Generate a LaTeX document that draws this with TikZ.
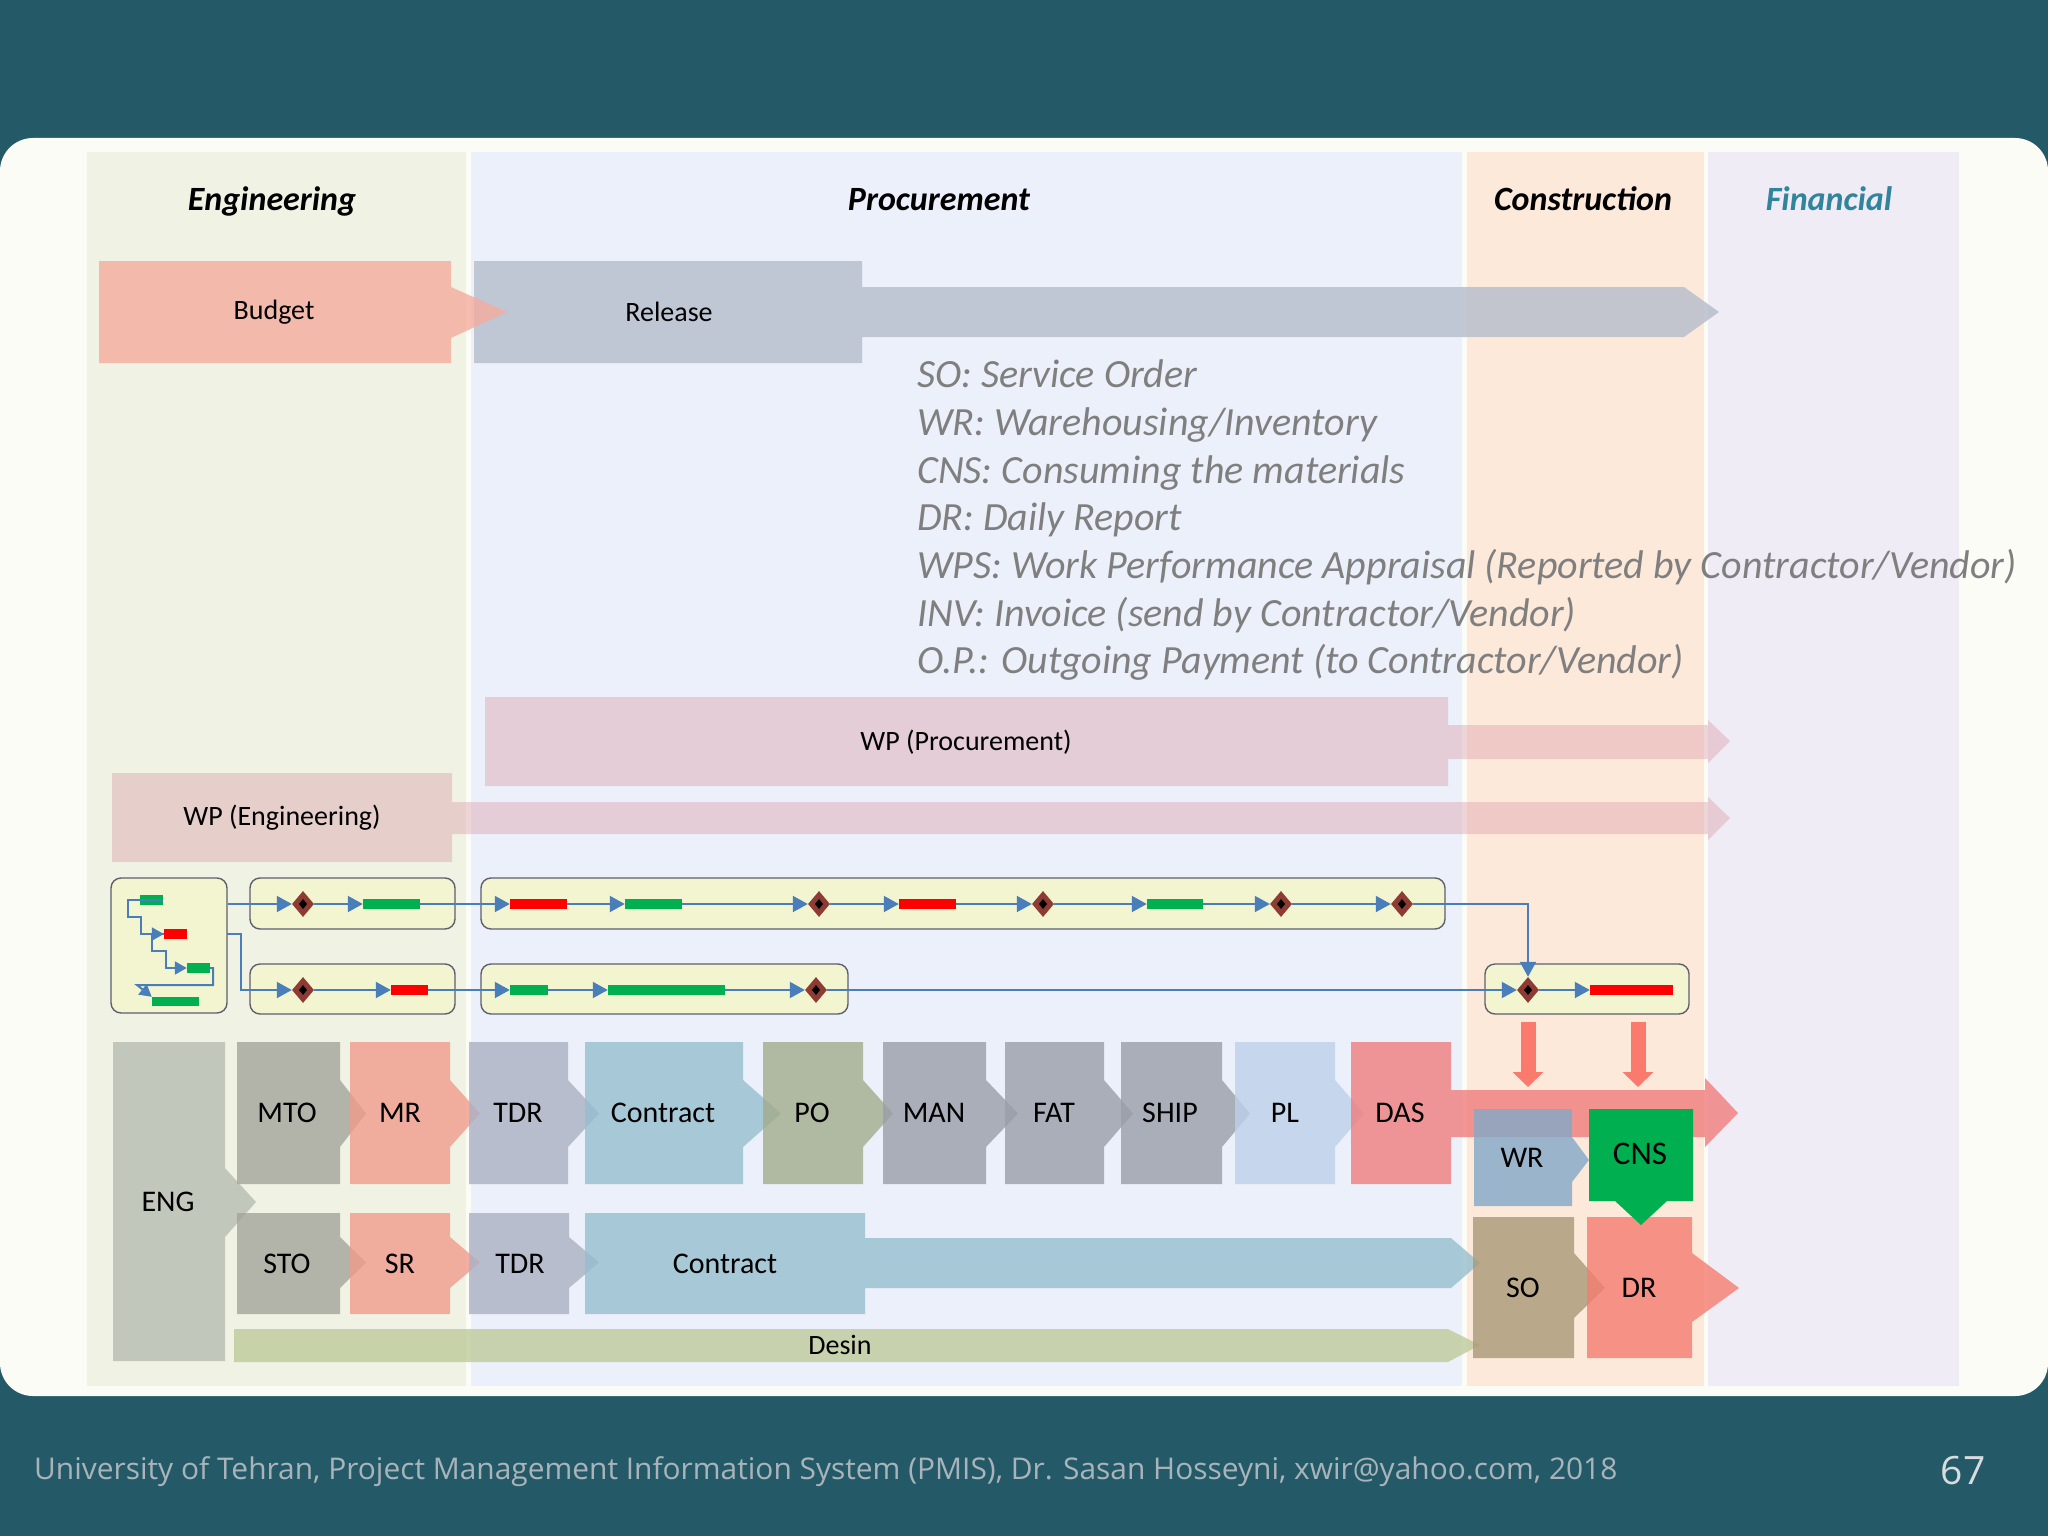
\documentclass[tikz,border=0pt]{standalone}
\usepackage{fontspec}
\setmainfont{Carlito}
\newfontfamily\footfont{Open Sans}
\usetikzlibrary{arrows.meta,shapes.geometric}
\newcommand\myfs[1]{\fontsize{#1}{#1}\selectfont}
\definecolor{bgteal}{HTML}{245A68}
\definecolor{panel}{HTML}{FCFCF7}
\definecolor{colEng}{HTML}{F0F3E4}
\definecolor{colProc}{HTML}{ECF0FA}
\definecolor{colCons}{HTML}{FDE9DA}
\definecolor{colFin}{HTML}{F0ECF6}
\definecolor{finteal}{HTML}{31849B}
\definecolor{leggrey}{HTML}{7F7F7F}
\definecolor{footgrey}{HTML}{A9B4BA}
\definecolor{pagegrey}{HTML}{D8DCDE}
\definecolor{cBudget}{HTML}{F4AC9E}
\definecolor{cRelease}{HTML}{B4BCCB}
\definecolor{cWP}{HTML}{DCA4AE}
\definecolor{cMTO}{HTML}{A3A59B}
\definecolor{cMR}{HTML}{F09B8C}
\definecolor{cTDR}{HTML}{ACB1C4}
\definecolor{cContract}{HTML}{96BECE}
\definecolor{cPO}{HTML}{A2AC8C}
\definecolor{cMAN}{HTML}{999EA8}
\definecolor{cPL}{HTML}{BCD0EA}
\definecolor{cDAS}{HTML}{F07D7D}
\definecolor{cENG}{HTML}{B7BDB2}
\definecolor{cWR}{HTML}{82A8C8}
\definecolor{cSO}{HTML}{A89976}
\definecolor{cDR}{HTML}{F57D70}
\definecolor{cDesin}{HTML}{BECA9B}
\definecolor{cCNS}{HTML}{00B050}
\definecolor{boxfill}{HTML}{F3F5D0}
\definecolor{boxline}{HTML}{5F5F70}
\definecolor{connblue}{HTML}{4A7EBB}
\definecolor{msbrown}{HTML}{8E3B33}
\definecolor{ggreen}{HTML}{00B050}
\definecolor{rred}{HTML}{FF0000}
\definecolor{redarrow}{HTML}{FA7A6E}
\newcommand\chev[8]{%
  \fill[#8] (#1,#2) -- (#3,#2) -- (#3,#6) -- (#5,{(#6+#7)/2}) -- (#3,#7) -- (#3,#4) -- (#1,#4) -- cycle;}
\begin{document}
\begin{tikzpicture}[x=1pt,y=-1pt,
  lbl/.style={font=\myfs{30}, text=black, inner sep=0},
  hdr/.style={font=\myfs{34}\bfseries\itshape, inner sep=0, anchor=base},
  leg/.style={font=\myfs{40}\itshape, text=leggrey, anchor=base west, inner sep=0},
  gbox/.style={draw=boxline, fill=boxfill, line width=1.4pt, rounded corners=10pt, inner sep=0},
  gbar/.style={fill=ggreen, minimum height=10, inner sep=0},
  rbar/.style={fill=rred, minimum height=10, inner sep=0},
  ms/.style={diamond, fill=msbrown, minimum width=22, minimum height=26, inner sep=0,
    path picture={\fill[black] (path picture bounding box.center) +(-4,0) -- +(0,5) -- +(4,0) -- +(0,-5) -- cycle;}},
  conn/.style={draw=connblue, line width=2pt, -{Triangle[length=15pt,width=16pt]}},
  connsm/.style={draw=connblue, line width=2pt, -{Triangle[length=12pt,width=13pt]}},
  redarr/.style={draw=redarrow, line width=15pt, -{Triangle[length=15pt,width=30pt]}},
  shp/.style={fill opacity=0.8}
]
\useasboundingbox (0,0) rectangle (2048,1536);
% background and panel
\fill[bgteal] (0,0) rectangle (2048,1536);
\fill[panel, rounded corners=33pt] (0,138) rectangle (2048,1396);
% columns
\fill[colEng] (87,152) rectangle (466,1386);
\fill[colProc] (471,152) rectangle (1462,1386);
\fill[colCons] (1467,152) rectangle (1704,1386);
\fill[colFin] (1708,152) rectangle (1959,1386);
% headers
\node[hdr] (hEng) at (272,210) {Engineering};
\node[hdr] (hProc) at (939,210) {Procurement};
\node[hdr] (hCons) at (1583,210) {Construction};
\node[hdr, text=finteal] (hFin) at (1829,210) {Financial};
% Release and Budget
\fill[cRelease, shp] (474,261) -- (862,261) -- (862,287) -- (1684,287) -- (1719,312) -- (1684,337) -- (862,337) -- (862,363) -- (474,363) -- cycle;
\fill[cBudget, shp] (99,261) -- (451,261) -- (451,287) -- (507,312) -- (451,338) -- (451,363) -- (99,363) -- cycle;
\node[lbl, font=\myfs{28}] (budget) at (274,312) {Budget};
\node[lbl, font=\myfs{28}] (release) at (669,312) {Release};
% legend
\node[leg] (leg1) at (917,387) {SO: Service Order};
\node[leg] (leg2) at (917,435) {WR: Warehousing/Inventory};
\node[leg] (leg3) at (917,483) {CNS: Consuming the materials};
\node[leg] (leg4) at (917,530) {DR: Daily Report};
\node[leg] (leg5) at (917,578) {WPS: Work Performance Appraisal (Reported by Contractor/Vendor)};
\node[leg] (leg6) at (917,626) {INV: Invoice (send by Contractor/Vendor)};
\node[leg] (leg7) at (917,673) {O.P.: Outgoing Payment (to Contractor/Vendor)};
% WP bars
\fill[cWP, fill opacity=0.45] (485,697) -- (1448,697) -- (1448,725) -- (1708,725) -- (1708,720) -- (1730,741) -- (1708,763) -- (1708,759) -- (1448,759) -- (1448,786) -- (485,786) -- cycle;
\fill[cWP, fill opacity=0.45] (112,773) -- (452,773) -- (452,802) -- (1708,802) -- (1708,797) -- (1730,818) -- (1708,840) -- (1708,834) -- (452,834) -- (452,862) -- (112,862) -- cycle;
\node[lbl, font=\myfs{28}] (wpp) at (966,742) {WP (Procurement)};
\node[lbl, font=\myfs{28}] (wpe) at (282,818) {WP (Engineering)};
% gantt boxes
\node[gbox, minimum width=116, minimum height=135] (lb) at (169,945.5) {};
\node[gbox, minimum width=205, minimum height=51] (bx1) at (352.5,903.5) {};
\node[gbox, minimum width=964, minimum height=51] (bx2) at (963,903.5) {};
\node[gbox, minimum width=205, minimum height=50] (bx3) at (352.5,989) {};
\node[gbox, minimum width=367, minimum height=50] (bx4) at (664.5,989) {};
\node[gbox, minimum width=204, minimum height=50] (bx5) at (1587,989) {};
% small bars inside left box
\node[gbar, minimum width=23] (b1) at (151.5,900) {};
\node[rbar, minimum width=23] (b2) at (175.5,934) {};
\node[gbar, minimum width=23] (b3) at (198.5,968) {};
\node[gbar, minimum width=47, minimum height=9] (b4) at (175.5,1001.5) {};
\draw[connsm] (b1.east) -- (128,900) |- (141,917) |- (b2.west);
\draw[connsm] (b2.west) -- ++(-12,0) |- (166,951) |- (b3.west);
\draw[connsm] (b3.east) -- ++(3,0) |- (137,985) -- (b4.north west);
% row 1 items
\node[ms] (m1) at (303,904) {};
\node[gbar, minimum width=57] (g1) at (391.5,904) {};
\node[rbar, minimum width=57] (r1) at (538.5,904) {};
\node[gbar, minimum width=57] (g2) at (653.5,904) {};
\node[ms] (m2) at (819,904) {};
\node[rbar, minimum width=57] (r2) at (927.5,904) {};
\node[ms] (m3) at (1043,904) {};
\node[gbar, minimum width=56] (g3) at (1175,904) {};
\node[ms] (m4) at (1281,904) {};
\node[ms] (m5) at (1402,904) {};
% row 2 items
\node[ms] (m7) at (303,990) {};
\node[rbar, minimum width=37] (r3) at (409.5,990) {};
\node[gbar, minimum width=38] (g4) at (529,990) {};
\node[gbar, minimum width=117] (g5) at (666.5,990) {};
\node[ms] (m8) at (816,990) {};
\node[ms] (m6) at (1528,990) {};
\node[rbar, minimum width=83] (r4) at (1631.5,990) {};
% row 1 connectors
\draw[conn] (lb.east |- m1) -- (m1);
\draw[conn] (m1) -- (g1);
\draw[conn] (g1) -- (r1);
\draw[conn] (r1) -- (g2);
\draw[conn] (g2) -- (m2);
\draw[conn] (m2) -- (r2);
\draw[conn] (r2) -- (m3);
\draw[conn] (m3) -- (g3);
\draw[conn] (g3) -- (m4);
\draw[conn] (m4) -- (m5);
\draw[conn] (m5) -| (m6);
% row 2 connectors
\coordinate (o2) at (227,934);
\draw[conn] (o2) -- ++(14,0) |- (m7);
\draw[conn] (m7) -- (r3);
\draw[conn] (r3) -- (g4);
\draw[conn] (g4) -- (g5);
\draw[conn] (g5) -- (m8);
\draw[conn] (m8) -- (m6);
\draw[conn] (m6) -- (r4);
% bottom chevrons
\fill[cENG, shp] (113,1042) -- (225,1042) -- (225,1168) -- (256,1202) -- (225,1237) -- (225,1361) -- (113,1361) -- cycle;
\fill[cDesin, shp] (234,1329) -- (1448,1329) -- (1480,1345) -- (1448,1362) -- (234,1362) -- cycle;
\chev{237}{1042}{340}{1184}{366}{1080}{1147}{cMTO, shp}
\chev{350}{1042}{450}{1184}{480}{1080}{1147}{cMR, shp}
\chev{469}{1042}{568}{1184}{599}{1080}{1147}{cTDR, shp}
\chev{585}{1042}{743}{1184}{781}{1080}{1147}{cContract, shp}
\chev{763}{1042}{863}{1184}{893}{1080}{1147}{cPO, shp}
\chev{883}{1042}{986}{1184}{1018}{1080}{1147}{cMAN, shp}
\chev{1005}{1042}{1104}{1184}{1133}{1080}{1147}{cMAN, shp}
\chev{1121}{1042}{1222}{1184}{1250}{1080}{1147}{cMAN, shp}
\chev{1235}{1042}{1335}{1184}{1364}{1080}{1147}{cPL, shp}
\fill[cDAS, shp] (1351,1042) -- (1451,1042) -- (1451,1090) -- (1705,1090) -- (1705,1078) -- (1738,1113) -- (1705,1147) -- (1705,1137) -- (1451,1137) -- (1451,1184) -- (1351,1184) -- cycle;
\chev{237}{1213}{340}{1314}{366}{1237}{1288}{cMTO, shp}
\chev{350}{1213}{450}{1314}{480}{1237}{1288}{cMR, shp}
\chev{469}{1213}{569}{1314}{599}{1237}{1288}{cTDR, shp}
\fill[cContract, shp] (585,1213) -- (865,1213) -- (865,1238) -- (1451,1238) -- (1480,1263) -- (1451,1288) -- (865,1288) -- (865,1314) -- (585,1314) -- cycle;
% construction blocks
\fill[cWR, shp] (1474,1109) -- (1572,1109) -- (1572,1137) -- (1589,1160) -- (1572,1182) -- (1572,1206) -- (1474,1206) -- cycle;
\fill[cSO, shp] (1473,1217) -- (1574,1217) -- (1574,1253) -- (1605,1288) -- (1574,1318) -- (1574,1358) -- (1473,1358) -- cycle;
\fill[cDR, shp] (1587,1217) -- (1692,1217) -- (1692,1253) -- (1739,1288) -- (1692,1322) -- (1692,1358) -- (1587,1358) -- cycle;
\fill[cCNS] (1589,1109) -- (1693,1109) -- (1693,1201) -- (1667,1201) -- (1641,1225) -- (1615,1201) -- (1589,1201) -- cycle;
% red down arrows
\coordinate (ra1s) at (1528,1022);
\coordinate (ra1e) at (1528,1087);
\coordinate (ra2s) at (1638,1022);
\coordinate (ra2e) at (1638,1087);
\draw[redarr] (ra1s) -- (ra1e);
\draw[redarr] (ra2s) -- (ra2e);
% labels
\node[lbl] (tENG) at (168,1202) {ENG};
\node[lbl] (tMTO) at (287,1113) {MTO};
\node[lbl] (tMR) at (400,1113) {MR};
\node[lbl] (tTDR) at (518,1113) {TDR};
\node[lbl] (tCon) at (663,1113) {Contract};
\node[lbl] (tPO) at (812,1113) {PO};
\node[lbl] (tMAN) at (934,1113) {MAN};
\node[lbl] (tFAT) at (1054,1113) {FAT};
\node[lbl] (tSHIP) at (1170,1113) {SHIP};
\node[lbl] (tPL) at (1285,1113) {PL};
\node[lbl] (tDAS) at (1400,1113) {DAS};
\node[lbl] (tSTO) at (287,1264) {STO};
\node[lbl] (tSR) at (400,1264) {SR};
\node[lbl] (tTDR2) at (520,1264) {TDR};
\node[lbl] (tCon2) at (725,1264) {Contract};
\node[lbl] (tWR) at (1522,1158) {WR};
\node[lbl, font=\myfs{33}] (tCNS) at (1640,1154) {CNS};
\node[lbl] (tSO) at (1523,1288) {SO};
\node[lbl] (tDR) at (1639,1288) {DR};
\node[lbl, font=\myfs{28}] (tDesin) at (840,1345) {Desin};
% footer
\node[anchor=base west, inner sep=0, font=\footfont\myfs{29.9}, text=footgrey] (foot) at (34,1479) {University of Tehran, Project Management Information System (PMIS), Dr. Sasan Hosseyni, xwir@yahoo.com, 2018};
\node[anchor=base, inner sep=0, font=\footfont\myfs{39}, text=pagegrey] (pg) at (1963,1484) {67};
\end{tikzpicture}
\end{document}
